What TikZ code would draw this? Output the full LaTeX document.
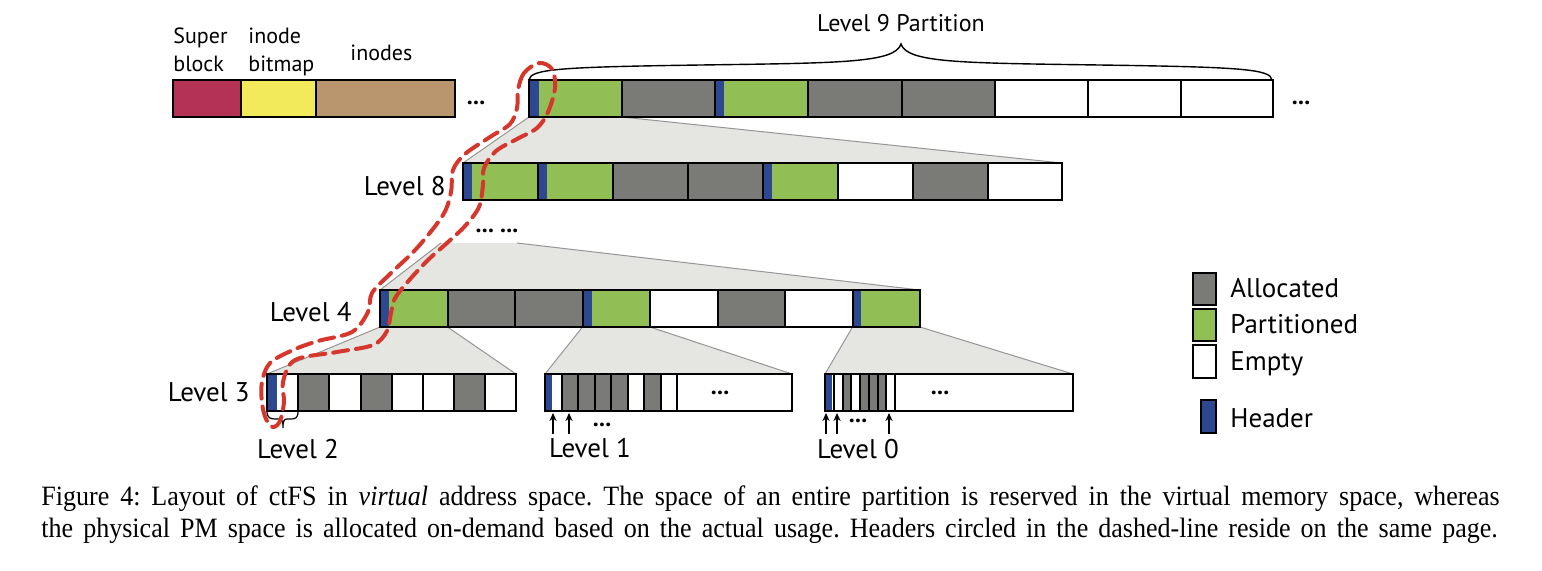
\documentclass[tikz,border=0pt]{standalone}
\usepackage{graphicx}
\usepackage{fontspec}
\setmainfont{Liberation Serif}
\newfontfamily\figfont{PT Sans}
\usetikzlibrary{arrows.meta}
\frenchspacing
\definecolor{sbred}{RGB}{180,50,85}
\definecolor{ibyellow}{RGB}{242,234,90}
\definecolor{inodetan}{RGB}{185,150,110}
\definecolor{pgreen}{RGB}{145,190,85}
\definecolor{agray}{RGB}{122,123,118}
\definecolor{hblue}{RGB}{45,72,145}
\definecolor{trapc}{RGB}{229,229,225}
\definecolor{trapl}{RGB}{150,150,150}
\definecolor{dred}{RGB}{214,55,45}
\newcommand\cellrow[3]{%
  \foreach \xa/\xb/\c/\h in {#3} {
    \fill[\c] (\xa,#1) rectangle (\xb,#2);
    \ifdim \h pt>0pt \fill[hblue] (\xa,#1) rectangle (\xa+\h,#2); \fi
    \draw[cellline] (\xa,#1) rectangle (\xb,#2);
  }}
\newcommand\trap[6]{%
  \fill[trapc] (#1,#2) -- (#3,#2) -- (#6,#5) -- (#4,#5) -- cycle;
  \draw[trapline] (#1,#2) -- (#4,#5);
  \draw[trapline] (#3,#2) -- (#6,#5);}
\newcommand\capbox[1]{\scalebox{0.93}[1]{\makebox[784pt][s]{#1}}}
\tikzset{
  cellline/.style={draw=black, line width=1pt},
  barframe/.style={draw=black, line width=1.4pt},
  trapline/.style={draw=trapl, line width=0.5pt},
  toplbl/.style={font=\figfont\fontsize{11}{14}\selectfont, inner sep=0pt, align=left},
  lvl/.style={font=\figfont\fontsize{13.5}{16}\selectfont, inner sep=0pt},
  dots/.style={font=\figfont\bfseries\fontsize{12}{14}\selectfont, inner sep=0pt},
  legbox/.style={draw=black, line width=1.2pt},
  uparrow/.style={-{Stealth[length=4pt,width=3.6pt]}, line width=0.55pt},
  headerloop/.style={draw=dred, line width=2pt, dash pattern=on 7.5pt off 4pt, line cap=round},
  capline/.style={font=\rmfamily\fontsize{14}{16}\selectfont, inner sep=0pt, anchor=base west},
}
\begin{document}
\begin{tikzpicture}[x=0.5pt,y=-0.5pt]
\useasboundingbox (0,0) rectangle (1542,570);
\fill[white] (0,0) rectangle (1542,570);

% ---- expansion wedges
\trap{529}{117}{622}{463}{163}{1062}
\fill[trapc] (441,243) -- (517,243) -- (920,290) -- (380,290) -- cycle;
\draw[trapline] (441,243) -- (380,290);
\draw[trapline] (517,243) -- (920,290);
\trap{380}{327}{447.5}{267}{374}{516}
\trap{582.5}{327}{650}{545}{374}{792}
\trap{852.5}{327}{920}{825}{374}{1073}

% ---- metadata row
\cellrow{80}{117}{173/241/sbred/0, 241/316/ibyellow/0, 316/455/inodetan/0}
\draw[barframe] (173,80) rectangle (455,117);

% ---- Level 9
\cellrow{80}{117}{529/622/pgreen/10, 622/715/agray/0, 715/808/pgreen/9, 808/902/agray/0,
  902/995/agray/0, 995/1088/white/0, 1088/1181/white/0, 1181/1273/white/0}
\draw[barframe] (529,80) rectangle (1273,117);

% ---- Level 8
\cellrow{163}{200}{463/538/pgreen/9, 538/613/pgreen/9, 613/688/agray/0, 688/763/agray/0,
  763/838/pgreen/9, 838/913/white/0, 913/988/agray/0, 988/1062/white/0}
\draw[barframe] (463,163) rectangle (1062,200);

% ---- Level 4
\cellrow{290}{327}{380/447.5/pgreen/9, 447.5/515/agray/0, 515/582.5/agray/0, 582.5/650/pgreen/9,
  650/717.5/white/0, 717.5/785/agray/0, 785/852.5/white/0, 852.5/920/pgreen/8}
\draw[barframe] (380,290) rectangle (920,327);

% ---- Level 3
\cellrow{374}{411}{267/298/white/10, 298/329/agray/0, 329/361/white/0, 361/392/agray/0,
  392/423/white/0, 423/454/white/0, 454/485/agray/0, 485/516/white/0}
\draw[barframe] (267,374) rectangle (516,411);

% ---- Level 1 partition
\cellrow{374}{411}{545/561.5/white/7, 561.5/578/agray/0, 578/594.5/agray/0, 594.5/611/agray/0,
  611/627.5/agray/0, 627.5/644/white/0, 644/660.5/agray/0, 660.5/677/white/0, 677/792/white/0}
\draw[barframe] (545,374) rectangle (792,411);

% ---- Level 0 partition
\cellrow{374}{411}{825/833.75/white/7, 833.75/842.5/white/0, 842.5/851.25/agray/0, 851.25/860/white/0,
  860/868.75/agray/0, 868.75/877.5/agray/0, 877.5/886.25/agray/0, 886.25/895/white/0, 895/1073/white/0}
\draw[barframe] (825,374) rectangle (1073,411);

% ---- braces
\draw[line width=0.7pt] (529,80) .. controls (530,69) and (560,67) .. (700,65)
  .. controls (840,63) and (895,63) .. (901,44)
  .. controls (907,63) and (962,63) .. (1100,65)
  .. controls (1240,67) and (1271,69) .. (1272,80);
\draw[line width=0.6pt] (267,411) .. controls (267,418) and (270,419) .. (276,419) -- (279,419)
  .. controls (282,419) and (283,421) .. (283,428)
  .. controls (283,421) and (284,419) .. (287,419) -- (290,419)
  .. controls (296,419) and (298,418) .. (298,411);

% ---- labels
\node[toplbl, anchor=base west] (sb) at (173,71) {Super\\block};
\node[toplbl, anchor=base west] (ib) at (248,71) {inode\\bitmap};
\node[toplbl, anchor=base west] (ino) at (350,60) {inodes};
\node[font=\figfont\fontsize{12}{14}\selectfont, inner sep=0pt, anchor=base] (l9) at (901,31) {Level 9 Partition};
\node[lvl, anchor=base east] (l8) at (446,195) {Level 8};
\node[lvl, anchor=base east] (l4) at (352,321) {Level 4};
\node[lvl, anchor=base east] (l3) at (250,401) {Level 3};
\node[lvl, anchor=base] (l2) at (298,458) {Level 2};
\node[lvl, anchor=base] (l1) at (590,457) {Level 1};
\node[lvl, anchor=base] (l0) at (858,458) {Level 0};

\node[dots] (d1) at (476,103) {...};
\node[dots] (d2) at (1301,103) {...};
\node[dots] (d3) at (497,231) {... ...};
\node[dots] (d4) at (720,393) {...};
\node[dots] (d5) at (940,393) {...};
\node[dots] (d6) at (602,425) {...};
\node[dots] (d7) at (858,421) {...};

% ---- pointer arrows
\coordinate (a1t) at (553,413); \coordinate (a1b) at (553,434);
\coordinate (a2t) at (569,413); \coordinate (a2b) at (569,434);
\coordinate (b1t) at (826,413); \coordinate (b1b) at (826,434);
\coordinate (b2t) at (837,413); \coordinate (b2b) at (837,434);
\coordinate (b3t) at (889,413); \coordinate (b3b) at (889,434);
\foreach \p in {a1,a2,b1,b2,b3} \draw[uparrow] (\p b) -- (\p t);

% ---- legend
\draw[legbox, fill=agray] (1193,273) rectangle (1216,305);
\draw[legbox, fill=pgreen] (1193,309) rectangle (1216,341);
\draw[legbox, fill=white] (1193,345) rectangle (1216,378);
\draw[legbox, fill=hblue] (1201,400) rectangle (1216,433);
\node[lvl, anchor=base west] (la) at (1230,297) {Allocated};
\node[lvl, anchor=base west] (lp) at (1230,333) {Partitioned};
\node[lvl, anchor=base west] (le) at (1230,370) {Empty};
\node[lvl, anchor=base west] (lh) at (1230,427) {Header};

% ---- dashed loop around headers on the same page
\draw[headerloop] plot[smooth cycle, tension=0.55] coordinates {
 (539,63) (524,73) (518,90) (517,108) (510,124) (490,137) (465,154) (453,170) (451,192)
 (443,215) (417,248) (390,274) (372,293) (368,312) (352,332) (318,341) (293,350) (270,363)
 (262,382) (262,403) (266,419) (273,427)
 (280,421) (284,402) (283,382) (295,360) (337,352) (373,345) (387,331) (391,313) (397,295)
 (425,263) (447,243) (465,226) (479,207) (483,185) (484,168) (496,151) (517,139) (537,128)
 (548,112) (555,88) (552,69)};

% ---- caption
\node[capline] (cap1) at (41,505) {\capbox{Figure 4: Layout of ctFS in \textit{virtual} address space. The space of an entire partition is reserved in the virtual memory space, whereas}};
\node[capline] (cap2) at (41,537) {\scalebox{0.93}[1]{\makebox[783pt][s]{the physical PM space is allocated on-demand based on the actual usage. Headers circled in the dashed-line reside on the same page.}}};
\end{tikzpicture}
\end{document}
